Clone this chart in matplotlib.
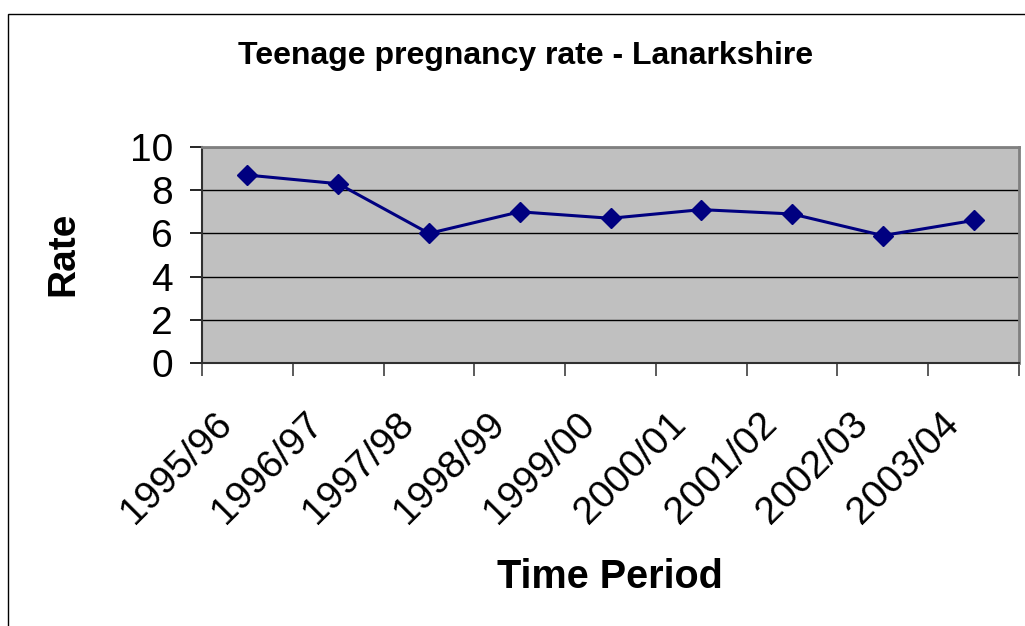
import matplotlib
matplotlib.use("Agg")
import matplotlib.pyplot as plt
from matplotlib.patches import Rectangle
from matplotlib.transforms import ScaledTranslation
import numpy as np

periods = ["1995/96", "1996/97", "1997/98", "1998/99", "1999/00",
           "2000/01", "2001/02", "2002/03", "2003/04"]
rates = [8.7, 8.3, 6.0, 7.0, 6.7, 7.1, 6.9, 5.9, 6.6]
y_ticks = [0, 2, 4, 6, 8, 10]

title = "Teenage pregnancy rate - Lanarkshire"
x_title = "Time Period"
y_title = "Rate"

plt.rcParams['font.family'] = ['Liberation Sans', 'DejaVu Sans']

W, H = 1025, 626
fig = plt.figure(figsize=(W / 100, H / 100), dpi=100)

# outer chart border (right/bottom cut off)
fig.patches.append(Rectangle((8 / W, -0.1), 1.2, 1 - 14 / H + 0.1,
                             transform=fig.transFigure, fill=False,
                             edgecolor='black', linewidth=1.0))

ax = fig.add_axes([202 / W, 1 - 363 / H, (1019 - 202) / W, (363 - 147) / H])
ax.set_facecolor('#C0C0C0')

x = np.arange(len(periods))
ax.plot(x, rates, color='#000080', linewidth=2.2, marker='D',
        markersize=10, markerfacecolor='#000080', markeredgecolor='#000080',
        zorder=3)

ax.set_xlim(-0.5, len(periods) - 0.5)
ax.set_ylim(0, 10)
ax.set_yticks(y_ticks)
ax.yaxis.grid(True, color='black', linewidth=1.0)
ax.set_axisbelow(True)

# category boundary ticks (major) and label positions (minor)
ax.set_xticks(np.arange(len(periods) + 1) - 0.5)
ax.set_xticklabels([])
ax.set_xticks(x, minor=True)
ax.set_xticklabels(periods, minor=True, rotation=45, ha='right', va='top',
                   fontsize=28)
ax.tick_params(axis='x', which='major', direction='out', length=9,
               width=1.2, color='#404040')
ax.tick_params(axis='x', which='minor', length=0, pad=31)
offset = ScaledTranslation(-8 / 100, 0, fig.dpi_scale_trans)
for lab in ax.get_xticklabels(minor=True):
    lab.set_transform(lab.get_transform() + offset)

ax.tick_params(axis='y', direction='out', length=9, width=1.2, pad=12,
               labelsize=28)

for side in ['top', 'right']:
    ax.spines[side].set_color('#808080')
    ax.spines[side].set_linewidth(2.0)
for side in ['left', 'bottom']:
    ax.spines[side].set_color('#303030')
    ax.spines[side].set_linewidth(1.5)

fig.text(526 / W, 1 - 56 / H, title, ha='center', va='center',
         fontsize=23, fontweight='bold')
fig.text(63 / W, 1 - 254 / H, y_title, ha='center', va='center',
         rotation=90, fontsize=28, fontweight='bold')
fig.text(610 / W, 1 - 577 / H, x_title, ha='center', va='center',
         fontsize=28.5, fontweight='bold')

fig.savefig("out.png", dpi=100)
